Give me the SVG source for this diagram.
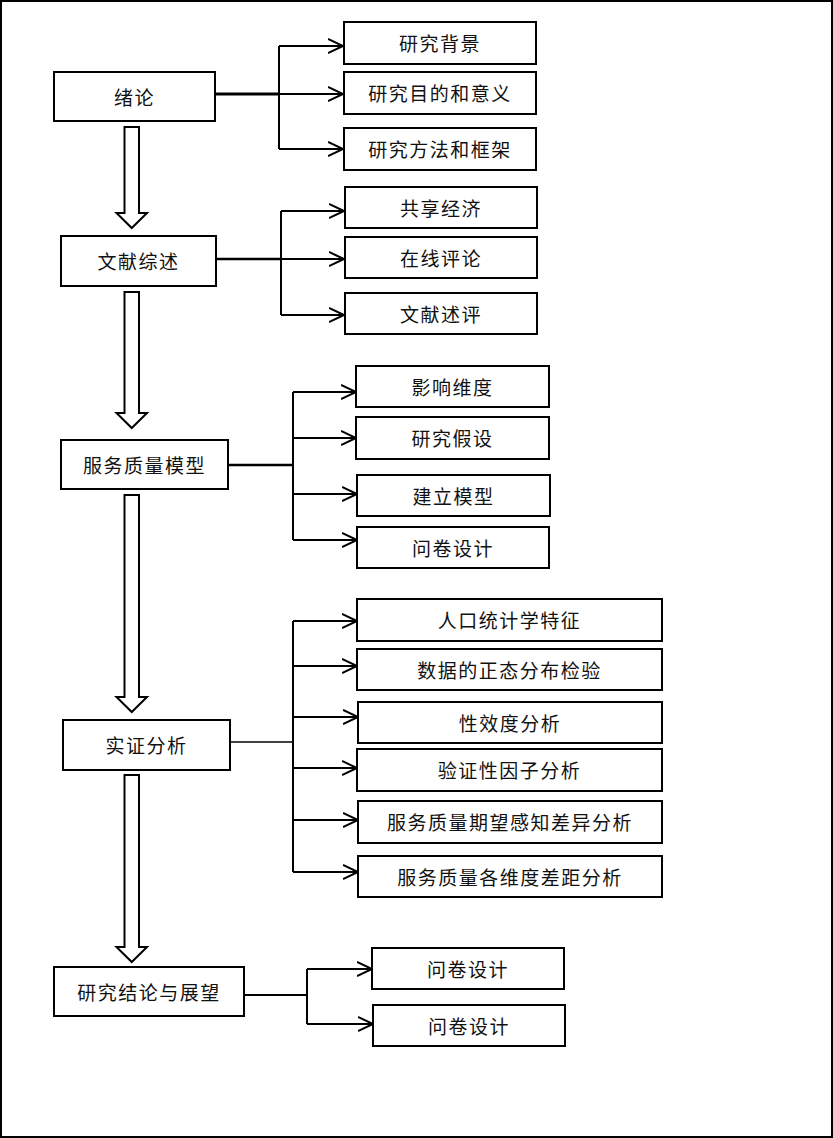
<svg xmlns="http://www.w3.org/2000/svg" width="833" height="1138" viewBox="0 0 833 1138">
<style>
.box{fill:#fff;stroke:#000;stroke-width:2}
.t{font-family:"Liberation Serif","Noto Sans CJK SC",serif;font-size:19px;fill:#111;text-anchor:middle;dominant-baseline:central;letter-spacing:1.5px}
.ln{fill:none;stroke:#000;stroke-width:2}
.blk{fill:#fff;stroke:#000;stroke-width:2;stroke-linejoin:miter}
</style>
<defs>
<marker id="ah" markerUnits="userSpaceOnUse" markerWidth="18" markerHeight="18" refX="15" refY="8" orient="auto">
<path d="M0,1 L15,8 L0,15" fill="none" stroke="#000" stroke-width="2"/>
</marker>
</defs>
<rect x="1" y="1" width="831" height="1136" fill="#fff" stroke="#000" stroke-width="2"/>

<g id="connectors">
<path class="ln" d="M215,94 H279" style="stroke-width:3"/>
<path class="ln" d="M279,46 V149"/>
<path class="ln" d="M279,46 H343" marker-end="url(#ah)"/>
<path class="ln" d="M279,94 H343" marker-end="url(#ah)"/>
<path class="ln" d="M279,149 H343" marker-end="url(#ah)"/>

<path class="ln" d="M216,259 H281" style="stroke-width:2.5"/>
<path class="ln" d="M281,211 V315"/>
<path class="ln" d="M281,211 H344" marker-end="url(#ah)"/>
<path class="ln" d="M281,259 H344" marker-end="url(#ah)"/>
<path class="ln" d="M281,315 H344" marker-end="url(#ah)"/>

<path class="ln" d="M228,465 H293" style="stroke-width:2.5"/>
<path class="ln" d="M293,392 V540"/>
<path class="ln" d="M293,392 H356" marker-end="url(#ah)"/>
<path class="ln" d="M293,438 H356" marker-end="url(#ah)"/>
<path class="ln" d="M293,494 H357" marker-end="url(#ah)"/>
<path class="ln" d="M293,540 H357" marker-end="url(#ah)"/>

<path class="ln" d="M230,742 H293" style="stroke-width:1.5"/>
<path class="ln" d="M293,621 V872"/>
<path class="ln" d="M293,621 H357" marker-end="url(#ah)"/>
<path class="ln" d="M293,666 H357" marker-end="url(#ah)"/>
<path class="ln" d="M293,717 H358" marker-end="url(#ah)"/>
<path class="ln" d="M293,768 H357" marker-end="url(#ah)"/>
<path class="ln" d="M293,820 H358" marker-end="url(#ah)"/>
<path class="ln" d="M293,872 H358" marker-end="url(#ah)"/>

<path class="ln" d="M244,995 H307"/>
<path class="ln" d="M307,969 V1024"/>
<path class="ln" d="M307,969 H372" marker-end="url(#ah)"/>
<path class="ln" d="M307,1024 H373" marker-end="url(#ah)"/>

<polygon class="blk" points="124.5,127 139,127 139,213 147,213 131.75,228 116.5,213 124.5,213"/>
<polygon class="blk" points="124.5,292 139,292 139,413 147,413 131.75,428 116.5,413 124.5,413"/>
<polygon class="blk" points="124.5,495 139,495 139,697 147,697 131.75,712 116.5,697 124.5,697"/>
<polygon class="blk" points="124.5,775 139,775 139,947 147,947 131.75,962 116.5,947 124.5,947"/>
</g>

<g id="n1"><rect class="box" x="54" y="72" width="161" height="49"/><text class="t" x="134.5" y="98">绪论</text></g>
<g id="n1a"><rect class="box" x="344" y="22" width="192" height="42"/><text class="t" x="440" y="44.5">研究背景</text></g>
<g id="n1b"><rect class="box" x="344" y="72" width="192" height="42"/><text class="t" x="440" y="94.5">研究目的和意义</text></g>
<g id="n1c"><rect class="box" x="344" y="128" width="192" height="42"/><text class="t" x="440" y="150.5">研究方法和框架</text></g>

<g id="n2"><rect class="box" x="61" y="236" width="155" height="50"/><text class="t" x="138.5" y="262.5">文献综述</text></g>
<g id="n2a"><rect class="box" x="345" y="187" width="192" height="41"/><text class="t" x="441" y="209">共享经济</text></g>
<g id="n2b"><rect class="box" x="345" y="237" width="192" height="41"/><text class="t" x="441" y="259">在线评论</text></g>
<g id="n2c"><rect class="box" x="345" y="293" width="192" height="41"/><text class="t" x="441" y="315">文献述评</text></g>

<g id="n3"><rect class="box" x="61" y="440" width="167" height="49"/><text class="t" x="144.5" y="466">服务质量模型</text></g>
<g id="n3a"><rect class="box" x="356" y="366" width="193" height="41"/><text class="t" x="452.5" y="388">影响维度</text></g>
<g id="n3b"><rect class="box" x="356" y="417" width="193" height="42"/><text class="t" x="452.5" y="439.5">研究假设</text></g>
<g id="n3c"><rect class="box" x="357" y="475" width="193" height="41"/><text class="t" x="453.5" y="497">建立模型</text></g>
<g id="n3d"><rect class="box" x="357" y="527" width="192" height="41"/><text class="t" x="453" y="549">问卷设计</text></g>

<g id="n4"><rect class="box" x="63" y="720" width="167" height="50"/><text class="t" x="146.5" y="746.5">实证分析</text></g>
<g id="n4a"><rect class="box" x="357" y="599" width="305" height="42"/><text class="t" x="509.5" y="621.5">人口统计学特征</text></g>
<g id="n4b"><rect class="box" x="357" y="649" width="305" height="41"/><text class="t" x="509.5" y="671">数据的正态分布检验</text></g>
<g id="n4c"><rect class="box" x="358" y="702" width="304" height="41"/><text class="t" x="510" y="724">性效度分析</text></g>
<g id="n4d"><rect class="box" x="357" y="749" width="305" height="42"/><text class="t" x="509.5" y="771.5">验证性因子分析</text></g>
<g id="n4e"><rect class="box" x="358" y="801" width="304" height="42"/><text class="t" x="510" y="823.5">服务质量期望感知差异分析</text></g>
<g id="n4f"><rect class="box" x="358" y="856" width="304" height="41"/><text class="t" x="510" y="878">服务质量各维度差距分析</text></g>

<g id="n5"><rect class="box" x="54" y="967" width="190" height="49"/><text class="t" x="149" y="993">研究结论与展望</text></g>
<g id="n5a"><rect class="box" x="372" y="948" width="192" height="41"/><text class="t" x="468" y="970">问卷设计</text></g>
<g id="n5b"><rect class="box" x="373" y="1005" width="192" height="41"/><text class="t" x="469" y="1027">问卷设计</text></g>
</svg>
